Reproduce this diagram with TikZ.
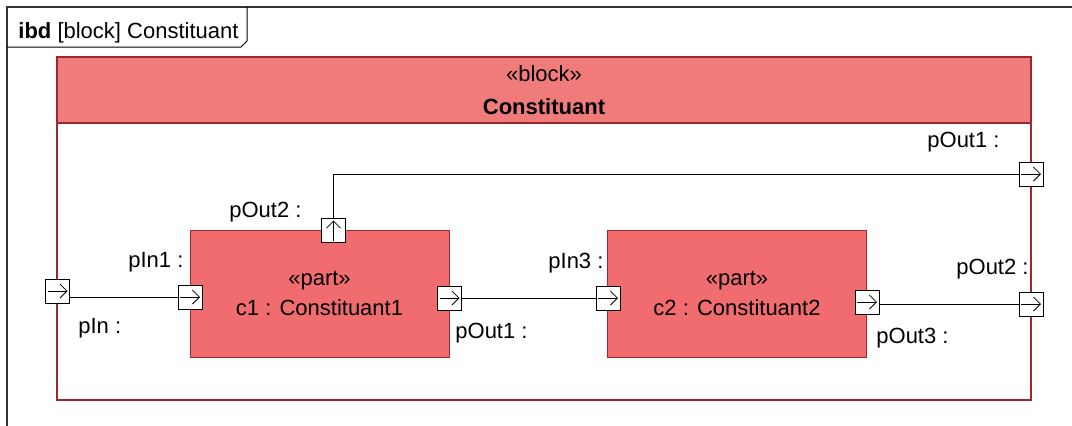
\documentclass[tikz,border=0pt]{standalone}
\usepackage{fontspec}
\setmainfont{Liberation Sans}
\usetikzlibrary{arrows.meta}
\definecolor{blockred}{RGB}{240,123,123}
\definecolor{partred}{RGB}{240,108,110}
\definecolor{edgered}{RGB}{155,40,45}
\tikzset{
  block/.style={draw=edgered, line width=0.7pt, minimum width=487pt, minimum height=171.5pt, inner sep=0pt},
  blockhead/.style={draw=edgered, fill=blockred, line width=0.7pt, minimum width=487pt, minimum height=33pt, align=center, font=\fontsize{11}{16.5}\selectfont, inner sep=0pt},
  part/.style={draw=edgered, fill=partred, line width=0.5pt, minimum width=129.5pt, minimum height=63.5pt, align=center, font=\fontsize{11}{15}\selectfont},
  portbox/.style={draw, fill=white, line width=0.5pt, minimum size=12pt, inner sep=0pt},
  port/.style={portbox, path picture={\draw[line width=0.4pt, -{Straight Barb[length=3.5pt, width=7pt]}] ([xshift=-5pt]path picture bounding box.center) -- ([xshift=5pt]path picture bounding box.center);}},
  portup/.style={portbox, path picture={\draw[line width=0.4pt, -{Straight Barb[length=3.5pt, width=7pt]}] ([yshift=-5pt]path picture bounding box.center) -- ([yshift=5pt]path picture bounding box.center);}},
  lbl/.style={anchor=west, inner sep=0pt, font=\fontsize{11}{13}\selectfont},
  wire/.style={line width=0.5pt}
}

\begin{document}
\begin{tikzpicture}[x=0.5pt, y=-0.5pt]
  \useasboundingbox (0,0) rectangle (1072,425);
  \clip (0,0) rectangle (1072,425);
  % diagram frame and tab
  \draw[black!80, line width=1pt] (7,445) -- (7,7) -- (1090,7);
  \draw[line width=0.5pt] (7,47) -- (241,47) -- (247,41) -- (247,7);
  \node[anchor=base west, inner sep=0pt, font=\fontsize{11}{13}\selectfont] (title) at (18,38) {\textbf{ibd} [block] Constituant};

  % block
  \node[block] (blk) at (544,228.5) {};
  \node[blockhead, anchor=north] (blkhead) at (blk.north) {«block»\\\textbf{Constituant}};

  % parts
  \node[part] (c1) at (319.5,293.5) {«part»\\c1 : Constituant1};
  \node[part] (c2) at (737,293.5) {«part»\\c2 : Constituant2};

  % ports
  \node[port] (pin) at (57.5,291) {};
  \node[port] (c1in) at (190,297) {};
  \node[portup] (c1up) at (333.5,230.5) {};
  \node[port] (c1out) at (449.5,298) {};
  \node[port] (c2in) at (608,298) {};
  \node[port] (c2out) at (867,302) {};
  \node[port] (bout2) at (1031,304) {};
  \node[port] (bout1) at (1031,174) {};

  % connectors
  \draw[wire] (pin.east |- c1in) -- (c1in.west);
  \draw[wire] (c1out.east) -- (c2in.west);
  \draw[wire] (c2out.east |- bout2) -- (bout2.west);
  \draw[wire] (c1up.north) |- (bout1.west);

  % port labels
  \node[lbl] (l-pin) at (78,328) {pIn :};
  \node[lbl] (l-c1in) at (128,262) {pIn1 :};
  \node[lbl] (l-c1up) at (229,212) {pOut2 :};
  \node[lbl] (l-c1out) at (455,333) {pOut1 :};
  \node[lbl] (l-c2in) at (548,263) {pIn3 :};
  \node[lbl] (l-c2out) at (876,338) {pOut3 :};
  \node[lbl] (l-bout2) at (956,269) {pOut2 :};
  \node[lbl] (l-bout1) at (927,142) {pOut1 :};
\end{tikzpicture}
\end{document}
